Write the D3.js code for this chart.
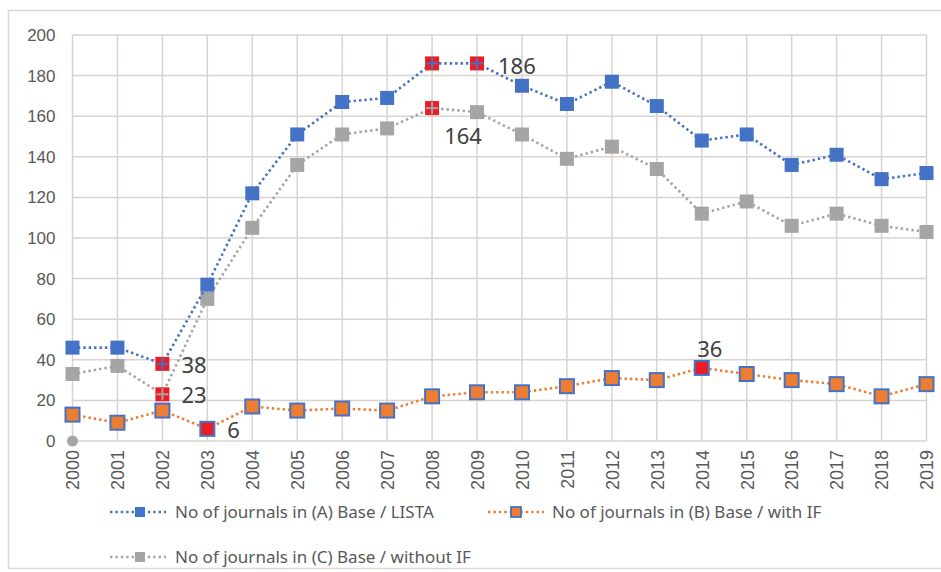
<!DOCTYPE html>
<html>
<head>
<meta charset="utf-8">
<script src="https://cdn.jsdelivr.net/npm/d3@7"></script>
<style>
  body { margin: 0; background: #fff; }
  svg { display: block; font-family: "Noto Sans", sans-serif; }
</style>
</head>
<body>
<div id="chart"></div>
<script>
// data
const years = [2000, 2001, 2002, 2003, 2004, 2005, 2006, 2007, 2008, 2009,
               2010, 2011, 2012, 2013, 2014, 2015, 2016, 2017, 2018, 2019];
const baseA = [46, 46, 38, 77, 122, 151, 167, 169, 186, 186, 175, 166, 177, 165, 148, 151, 136, 141, 129, 132];
const baseB = [13, 9, 15, 6, 17, 15, 16, 15, 22, 24, 24, 27, 31, 30, 36, 33, 30, 28, 22, 28];
const baseC = [33, 37, 23, 70, 105, 136, 151, 154, 164, 162, 151, 139, 145, 134, 112, 118, 106, 112, 106, 103];
const seriesNames = ["No of journals in (A) Base / LISTA",
                     "No of journals in (B) Base / with IF",
                     "No of  journals in (C) Base / without IF"];
const yTicks = [0, 20, 40, 60, 80, 100, 120, 140, 160, 180, 200];
// highlighted (red) points: series key + year
const highlights = [
    {s: "A", year: 2002}, {s: "A", year: 2008}, {s: "A", year: 2009},
    {s: "C", year: 2002}, {s: "C", year: 2008},
    {s: "B", year: 2003}, {s: "B", year: 2014}
];
// points that carry a value label
const labelled = [
    {s: "A", year: 2002}, {s: "C", year: 2002}, {s: "B", year: 2003},
    {s: "A", year: 2009}, {s: "C", year: 2008}, {s: "B", year: 2014}
];
// a lone grey dot sitting on the zero line in 2000
const strayPoint = {year: 2000, value: 0};

const width = 941, height = 572;
const margin = {top: 35, right: 14.5, bottom: 131, left: 72.5};

const svg = d3.select("#chart").append("svg")
    .attr("width", width)
    .attr("height", height);

// outer chart border
svg.append("rect")
    .attr("x", 8.5).attr("y", 10.5)
    .attr("width", 960).attr("height", 558)
    .attr("fill", "none")
    .attr("stroke", "#dcd7d4")
    .attr("stroke-width", 1.5);

const x = d3.scalePoint()
    .domain(years)
    .range([margin.left, width - margin.right]);
const y = d3.scaleLinear()
    .domain([0, 200])
    .range([height - margin.bottom, margin.top]);

const gridColor = "#d9d3d0";
const textColor = "#595959";

// horizontal gridlines
svg.append("g")
    .selectAll("line")
    .data(yTicks)
    .enter()
    .append("line")
    .attr("x1", x.range()[0]).attr("x2", x.range()[1])
    .attr("y1", d => y(d)).attr("y2", d => y(d))
    .attr("stroke", gridColor)
    .attr("stroke-width", 1.5);

// vertical gridlines
svg.append("g")
    .selectAll("line")
    .data(years)
    .enter()
    .append("line")
    .attr("x1", d => x(d)).attr("x2", d => x(d))
    .attr("y1", y(0)).attr("y2", y(200))
    .attr("stroke", gridColor)
    .attr("stroke-width", 1.5);

// y axis labels
const yAxis = svg.append("g")
    .attr("transform", "translate(" + margin.left + ",0)")
    .call(d3.axisLeft(y).tickValues(yTicks).tickSize(0).tickPadding(17));
yAxis.select(".domain").remove();
yAxis.selectAll("text")
    .attr("fill", textColor)
    .style("font-size", "17px");

// x axis labels, rotated
const xAxis = svg.append("g")
    .attr("transform", "translate(0," + y(0) + ")")
    .call(d3.axisBottom(x).tickSize(0));
xAxis.select(".domain").remove();
xAxis.selectAll("text")
    .attr("fill", textColor)
    .style("font-size", "18px")
    .attr("text-anchor", "end")
    .attr("dy", "0.35em")
    .attr("transform", "translate(0,9) rotate(-90)")
    .attr("x", 0).attr("y", 0);

const series = [
    {key: "A", values: baseA, color: "#4472c4", marker: "#4472c4", border: null},
    {key: "B", values: baseB, color: "#ed7d31", marker: "#ed7d31", border: "#4472c4"},
    {key: "C", values: baseC, color: "#a5a5a5", marker: "#a5a5a5", border: null}
];
const byKey = {};
series.forEach(s => byKey[s.key] = s);

const line = d3.line()
    .x(d => x(d.year))
    .y(d => y(d.value));

const drawOrder = ["C", "A", "B"];
const markSize = 14;
const red = "#ec1c24";

drawOrder.forEach(function(k) {
    const s = byKey[k];
    const pts = years.map((yr, i) => ({year: yr, value: s.values[i]}));
    const g = svg.append("g");

    g.append("path")
        .datum(pts)
        .attr("d", line)
        .attr("fill", "none")
        .attr("stroke", s.color)
        .attr("stroke-width", 2.6)
        .attr("stroke-dasharray", "2.4 3")
        .attr("stroke-linecap", "butt");

    const isHi = d => highlights.some(h => h.s === k && h.year === d.year);

    const half = markSize / 2;
    g.selectAll("rect")
        .data(pts)
        .enter()
        .append("rect")
        .attr("x", d => x(d.year) - half)
        .attr("y", d => y(d.value) - half)
        .attr("width", markSize)
        .attr("height", markSize)
        .attr("fill", d => isHi(d) ? red : s.marker)
        .attr("stroke", s.border ? s.border : "none")
        .attr("stroke-width", s.border ? 2 : 0);

    // plus sign on highlighted A and C markers
    if (!s.border) {
        const hp = pts.filter(isHi);
        const plus = g.selectAll("g.plus")
            .data(hp)
            .enter()
            .append("g")
            .attr("transform", d => "translate(" + x(d.year) + "," + y(d.value) + ")");
        plus.append("line")
            .attr("x1", -half + 1).attr("x2", half - 1)
            .attr("y1", 0).attr("y2", 0)
            .attr("stroke", s.color).attr("stroke-width", 2);
        plus.append("line")
            .attr("y1", -half + 1).attr("y2", half - 1)
            .attr("x1", 0).attr("x2", 0)
            .attr("stroke", s.color).attr("stroke-width", 2);
    }
});

// stray grey dot
svg.append("circle")
    .attr("cx", x(strayPoint.year))
    .attr("cy", y(strayPoint.value))
    .attr("r", 5.5)
    .attr("fill", "#a5a5a5");

// value labels
function labelOffset(l) {
    if (l.s === "B" && l.year === 2014) return {dx: 8, dy: -19, anchor: "middle"};
    if (l.s === "C" && l.year === 2008) return {dx: 31, dy: 28, anchor: "middle"};
    if (l.s === "B") return {dx: 20, dy: 1, anchor: "start"};
    if (l.s === "A" && l.year === 2009) return {dx: 21, dy: 3, anchor: "start"};
    return {dx: 19, dy: 1, anchor: "start"};
}
svg.append("g")
    .selectAll("text")
    .data(labelled)
    .enter()
    .append("text")
    .each(function(l) {
        const s = byKey[l.s];
        const v = s.values[years.indexOf(l.year)];
        const o = labelOffset(l);
        d3.select(this)
            .attr("x", x(l.year) + o.dx)
            .attr("y", y(v) + o.dy)
            .attr("text-anchor", o.anchor)
            .attr("dy", "0.35em")
            .text(v);
    })
    .attr("fill", "#404040")
    .style("font-size", "22px");

// legend
const legendItems = [
    {s: "A", name: seriesNames[0], lx: 110, ly: 512},
    {s: "B", name: seriesNames[1], lx: 488, ly: 512},
    {s: "C", name: seriesNames[2], lx: 110, ly: 557}
];
const legend = svg.append("g")
    .selectAll("g")
    .data(legendItems)
    .enter()
    .append("g")
    .attr("transform", d => "translate(" + d.lx + "," + d.ly + ")");

legend.append("line")
    .attr("x1", 0).attr("x2", 56)
    .attr("y1", 0).attr("y2", 0)
    .attr("stroke", d => byKey[d.s].color)
    .attr("stroke-width", 2.6)
    .attr("stroke-dasharray", "2.4 3");
legend.append("rect")
    .attr("x", d => d.s === "B" ? 23 : 25).attr("y", -5)
    .attr("width", 10).attr("height", 10)
    .attr("fill", d => byKey[d.s].marker)
    .attr("stroke", d => byKey[d.s].border ? byKey[d.s].border : "none")
    .attr("stroke-width", 1.8);
legend.append("text")
    .attr("x", d => d.s === "B" ? 64 : 65)
    .attr("y", 0)
    .attr("dy", "0.35em")
    .attr("fill", textColor)
    .style("font-size", "17px")
    .text(d => d.name);
</script>
</body>
</html>
